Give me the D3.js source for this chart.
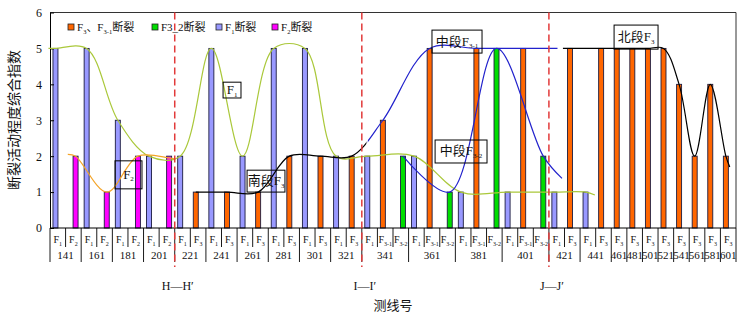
<!DOCTYPE html>
<html>
<head>
<meta charset="utf-8">
<script src="https://cdn.jsdelivr.net/npm/d3@7"></script>
<style>
body { margin: 0; background: #fff; }
text { font-family: "Liberation Serif", "Times New Roman", "Noto Sans CJK SC", serif; fill: #111; }
</style>
</head>
<body>
<svg width="749" height="319"></svg>
<script>
// survey lines and the faults measured on each
var lineNos = ['141','161','181','201','221','241','261','281','301','321','341','361','381','401','421','441','461','481','501','521','541','561','581','601'];
var lineFaults = [
    ['F1','F2'], ['F1','F2'], ['F1','F2'], ['F1','F2'],
    ['F1','F3'], ['F1','F3'], ['F1','F3'], ['F1','F3'], ['F1','F3'], ['F1','F3'],
    ['F1','F3-1','F3-2'], ['F1','F3-1','F3-2'], ['F1','F3-1','F3-2'], ['F1','F3-1','F3-2'],
    ['F1','F3'], ['F1','F3'],
    ['F3'], ['F3'], ['F3'], ['F3'], ['F3'], ['F3'], ['F3'], ['F3']
];
var values = [5,2, 5,1, 3,2, 2,2, 2,1, 5,1, 2,1, 5,2, 5,2, 2,2, 2,3,2, 2,5,1, 1,5,5, 1,5,2, 1,5, 1,5, 5,5,5,5,4,2,4,2];

// hand drawn trend curves: [slot, value]
var curveF1 = [[-0.45,5],[0,5],[2,5],[4,3],[6,2],[8,2],[10,5],[12,2],[14,5],[16,5],[18,2],[20,2],[23,2],[26,1],[29,1],[32,1],[34,1],[34.6,0.92]];
var curveF2 = [[0.5,2.05],[1,2],[3,1],[5,2],[7,1.95],[7.4,1.92]];
var curveF3 = [[9,1],[11,1],[13,1],[15,2],[17,2],[19,2],[21,3],[24,5],[27,5],[30,5],[33,5],[35,5],[36,5],[37,5],[38,5],[39,5],[40,4],[41,2],[42,4],[43,2],[43.25,1.7]];
var curveF32 = [[22,2],[25,1],[28,5],[31,2],[32.2,1.38]];

var sectionLabels = ['H\u2014H\u2032', 'I\u2014I\u2032', 'J\u2014J\u2032'];
var sectionAfter = ['201', '321', '401'];

var svg = d3.select('svg');

var slots = [];
lineNos.forEach(function (no, g) {
    lineFaults[g].forEach(function (f) {
        slots.push({no: no, group: g, fault: f, value: values[slots.length]});
    });
});

var x = d3.scaleLinear().domain([0, slots.length]).range([50, 736]);
var y = d3.scaleLinear().domain([0, 6]).range([228, 12.5]);

var barOff = {'F1': 0.19, 'F3': 0.19, 'F3-1': 0.19, 'F2': 0.48, 'F3-2': 0.48};
var barW = 0.32;
var colors = {'F1': '#9999ff', 'F2': '#ff00ff', 'F3': '#ff6600', 'F3-1': '#ff6600', 'F3-2': '#00dd00'};

// text with subscripts, parts = [[text, isSub], ...]
function rich(t, parts, subSize) {
    var down = false;
    parts.forEach(function (p) {
        var s = t.append('tspan').text(p[0]);
        if (p[1] && !down) { s.attr('dy', 2.5).attr('font-size', subSize); down = true; }
        else if (p[1]) { s.attr('font-size', subSize); }
        else if (down) { s.attr('dy', -2.5); down = false; }
    });
}
function faultParts(f) {
    return [['F'], [f.slice(1), true]];
}

// frame
svg.append('line').attr('x1', 50).attr('x2', 736).attr('y1', 12.5).attr('y2', 12.5).attr('stroke', '#333');
svg.append('line').attr('x1', 736).attr('x2', 736).attr('y1', 12.5).attr('y2', 228).attr('stroke', '#333');

// bars
svg.selectAll('rect.bar')
    .data(slots)
    .enter()
    .append('rect')
    .attr('class', 'bar')
    .attr('x', function (d, i) { return x(i + barOff[d.fault]); })
    .attr('width', x(barW) - x(0))
    .attr('y', function (d) { return y(d.value); })
    .attr('height', function (d) { return y(0) - y(d.value); })
    .attr('fill', function (d) { return colors[d.fault]; })
    .attr('stroke', '#1c1c40')
    .attr('stroke-width', 0.9);

// y axis
var yAxis = svg.append('g')
    .attr('transform', 'translate(50,0)')
    .call(d3.axisLeft(y).ticks(6).tickSizeInner(-4).tickSizeOuter(0).tickPadding(8));
yAxis.attr('font-size', 12).attr('font-family', null);
yAxis.selectAll('path, line').attr('stroke', '#000');

// bottom axis line + table
svg.append('line').attr('x1', 50).attr('x2', 736).attr('y1', 228).attr('y2', 228).attr('stroke', '#000');
for (var i = 0; i <= slots.length; i++) {
    var edge = i === 0 || i === slots.length || slots[i].group !== slots[i - 1].group;
    svg.append('line')
        .attr('x1', x(i)).attr('x2', x(i))
        .attr('y1', 228).attr('y2', edge ? 262 : 247)
        .attr('stroke', '#000').attr('stroke-width', 0.9);
}
slots.forEach(function (d, i) {
    var t = svg.append('text')
        .attr('x', x(i + 0.5)).attr('y', 243)
        .attr('text-anchor', 'middle')
        .attr('font-size', 10);
    rich(t, faultParts(d.fault), 6);
});
lineNos.forEach(function (no, g) {
    var idx = slots.map(function (d, i) { return d.group === g ? i : -1; }).filter(function (i) { return i >= 0; });
    svg.append('text')
        .attr('x', x((idx[0] + idx[idx.length - 1] + 1) / 2))
        .attr('y', 259)
        .attr('text-anchor', 'middle')
        .attr('font-size', 11)
        .text(no);
});

// curves
function curveLine(off) {
    return d3.line()
        .x(function (d) { return x(d[0] + off + barW / 2); })
        .y(function (d) { return y(d[1]); })
        .curve(d3.curveCatmullRom.alpha(0.5));
}
svg.append('path').attr('d', curveLine(0.19)(curveF1))
    .attr('fill', 'none').attr('stroke', '#aac83a').attr('stroke-width', 1.2);
svg.append('path').attr('d', curveLine(0.48)(curveF2))
    .attr('fill', 'none').attr('stroke', '#f4a428').attr('stroke-width', 1.2);
svg.append('path').attr('d', curveLine(0.48)(curveF32))
    .attr('fill', 'none').attr('stroke', '#2222cc').attr('stroke-width', 1.2);

var f3Segments = [[-1, 20.3, '#000'], [20.38, 32.55, '#2222cc'], [32.9, 46, '#000']];
f3Segments.forEach(function (s, k) {
    svg.append('clipPath').attr('id', 'seg' + k)
        .append('rect').attr('x', x(s[0])).attr('width', x(s[1]) - x(s[0]))
        .attr('y', 0).attr('height', 319);
    svg.append('path').attr('d', curveLine(0.19)(curveF3))
        .attr('clip-path', 'url(#seg' + k + ')')
        .attr('fill', 'none').attr('stroke', s[2]).attr('stroke-width', 1.2);
});

// annotation boxes: slot range, value range
var notes = [
    {parts: [['F'], ['1', true]], x0: 11.1, x1: 12.25, y0: 3.62, y1: 4.06},
    {parts: [['F'], ['2', true]], x0: 4.17, x1: 5.9, y0: 1.09, y1: 1.87},
    {parts: [['南段F'], ['3', true]], x0: 12.64, x1: 15.07, y0: 1.0, y1: 1.61},
    {parts: [['中段F'], ['3-1', true]], x0: 24.5, x1: 27.71, y0: 4.87, y1: 5.51},
    {parts: [['中段F'], ['3-2', true]], x0: 24.7, x1: 28.03, y0: 1.81, y1: 2.45},
    {parts: [['北段F'], ['3', true]], x0: 36.18, x1: 39.0, y0: 4.98, y1: 5.65}
];
notes.forEach(function (n) {
    svg.append('rect')
        .attr('x', x(n.x0)).attr('width', x(n.x1) - x(n.x0))
        .attr('y', y(n.y1)).attr('height', y(n.y0) - y(n.y1))
        .attr('fill', 'none').attr('stroke', '#000').attr('stroke-width', 1);
    var t = svg.append('text')
        .attr('x', x((n.x0 + n.x1) / 2)).attr('y', (y(n.y0) + y(n.y1)) / 2 + 4)
        .attr('text-anchor', 'middle')
        .attr('font-size', 13);
    rich(t, n.parts, 7);
});

// section dashed lines
sectionAfter.forEach(function (no, k) {
    var last = d3.max(slots.map(function (d, i) { return d.no === no ? i : -1; })) + 1;
    svg.append('line')
        .attr('x1', x(last)).attr('x2', x(last))
        .attr('y1', 12.5).attr('y2', 267)
        .attr('stroke', '#e23a3a').attr('stroke-width', 1.5)
        .attr('stroke-dasharray', '7,4');
    svg.append('text')
        .attr('x', x(last) + 3).attr('y', 290)
        .attr('text-anchor', 'middle')
        .attr('font-size', 12)
        .text(sectionLabels[k]);
});

// legend
var legend = [
    {fault: 'F3', parts: [['F'], ['3', true], ['、F'], ['3-1', true], ['断裂']], x: 68},
    {fault: 'F3-2', parts: [['F3_2断裂']], x: 152},
    {fault: 'F1', parts: [['F'], ['1', true], ['断裂']], x: 216},
    {fault: 'F2', parts: [['F'], ['2', true], ['断裂']], x: 272}
];
legend.forEach(function (l) {
    svg.append('rect')
        .attr('x', l.x).attr('y', 24).attr('width', 6).attr('height', 6)
        .attr('fill', colors[l.fault]).attr('stroke', '#222').attr('stroke-width', 0.8);
    var t = svg.append('text')
        .attr('x', l.x + 9).attr('y', 31)
        .attr('font-size', 11);
    rich(t, l.parts, 6.5);
});

// titles
svg.append('text')
    .attr('transform', 'translate(19,120) rotate(-90)')
    .attr('text-anchor', 'middle')
    .attr('font-size', 14)
    .text('断裂活动程度综合指数');
svg.append('text')
    .attr('x', 393).attr('y', 310)
    .attr('text-anchor', 'middle')
    .attr('font-size', 13)
    .text('测线号');
</script>
</body>
</html>
